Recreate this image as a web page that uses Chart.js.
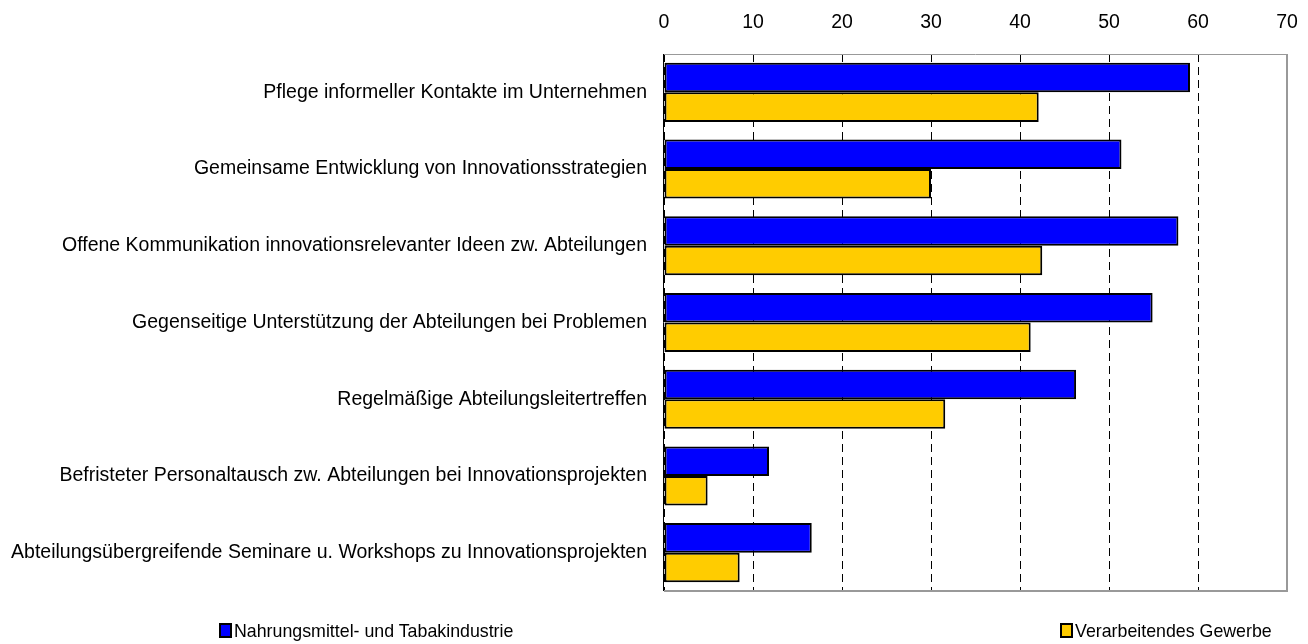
<!DOCTYPE html>
<html>
<head>
<meta charset="utf-8">
<script src="https://cdn.jsdelivr.net/npm/chart.js@4"></script>
<style>
    html, body { margin: 0; padding: 0; background: #fff; }
    #wrap { position: relative; width: 1308px; height: 644px; }
    #legend { position: absolute; left: 0; top: 621px; width: 1308px; height: 22px;
        font: 17.8px "Liberation Sans", Arial, sans-serif; color: #000; }
    .item { position: absolute; top: 0; white-space: nowrap; line-height: 21px; }
    .box { display: inline-block; width: 9px; height: 11px; border: 2px solid #000;
        vertical-align: -1px; margin-right: 2px; }
</style>
</head>
<body>
<div id="wrap">
    <canvas id="chart" width="1308" height="644"></canvas>
    <div id="legend"></div>
</div>
<script>
const categorias = [
    'Pflege informeller Kontakte im Unternehmen',
    'Gemeinsame Entwicklung von Innovationsstrategien',
    'Offene Kommunikation innovationsrelevanter Ideen zw. Abteilungen',
    'Gegenseitige Unterstützung der Abteilungen bei Problemen',
    'Regelmäßige Abteilungsleitertreffen',
    'Befristeter Personaltausch zw. Abteilungen bei Innovationsprojekten',
    'Abteilungsübergreifende Seminare u. Workshops zu Innovationsprojekten'
];
const serieNamen = ['Nahrungsmittel- und Tabakindustrie', 'Verarbeitendes Gewerbe'];
const nahrung = [59.1, 51.4, 57.8, 54.9, 46.3, 11.8, 16.6];
const gewerbe = [42.1, 30.0, 42.5, 41.2, 31.6, 4.9, 8.5];
const xTicks = [0, 10, 20, 30, 40, 50, 60, 70];

const farben = ['#0000ff', '#ffcc00'];
const FONT = '"Liberation Sans", Arial, sans-serif';

const area = { left: 664, right: 1287, top: 54, bottom: 591 };

// Rahmen um die Plotfläche
const rahmen = {
    id: 'rahmen',
    afterDatasetsDraw: function (chart) {
        const a = chart.chartArea;
        const c = chart.ctx;
        c.save();
        c.strokeStyle = '#999';
        c.lineWidth = 1;
        c.beginPath();
        c.moveTo(a.left, a.top + 0.5);
        c.lineTo(a.right, a.top + 0.5);
        c.stroke();
        c.lineWidth = 2;
        c.beginPath();
        c.moveTo(a.right, a.top);
        c.lineTo(a.right, a.bottom);
        c.lineTo(a.left, a.bottom);
        c.stroke();
        c.strokeStyle = '#000';
        c.lineWidth = 1;
        c.beginPath();
        c.moveTo(a.left - 0.5, a.top);
        c.lineTo(a.left - 0.5, a.bottom);
        c.stroke();
        c.restore();
    }
};

new Chart(document.getElementById('chart').getContext('2d'), {
    type: 'bar',
    data: {
        labels: categorias,
        datasets: [
            {
                label: serieNamen[0],
                data: nahrung,
                backgroundColor: farben[0],
                borderColor: '#000',
                borderWidth: 2,
                borderSkipped: false
            },
            {
                label: serieNamen[1],
                data: gewerbe,
                backgroundColor: farben[1],
                borderColor: '#000',
                borderWidth: 2,
                borderSkipped: false
            }
        ]
    },
    options: {
        indexAxis: 'y',
        responsive: false,
        animation: false,
        datasets: { bar: { categoryPercentage: 0.77, barPercentage: 1 } },
        layout: { padding: { left: 0, right: 1308 - area.right, top: 0, bottom: 644 - area.bottom } },
        plugins: { legend: { display: false }, tooltip: { enabled: false } },
        scales: {
            x: {
                position: 'top',
                min: 0,
                max: 70,
                afterBuildTicks: function (axis) {
                    axis.ticks = xTicks.map(function (v) { return { value: v }; });
                },
                afterFit: function (axis) {
                    axis.height = area.top;
                    axis.paddingLeft = 0;
                    axis.paddingRight = 0;
                },
                grid: { color: '#000', lineWidth: 1, drawTicks: false },
                border: { display: false, dash: [8, 5] },
                ticks: { color: '#000', padding: 20, maxRotation: 0, font: { family: FONT, size: 19.5 } }
            },
            y: {
                afterFit: function (axis) {
                    axis.width = area.left;
                    axis.paddingTop = 0;
                    axis.paddingBottom = 0;
                },
                grid: { display: false, drawTicks: false },
                border: { display: false },
                ticks: { color: '#000', padding: 17, font: { family: FONT, size: 19.5 } }
            }
        }
    },
    plugins: [rahmen]
});

const legendPos = [219, 1060];
const legend = document.getElementById('legend');
serieNamen.forEach(function (name, i) {
    const item = document.createElement('div');
    item.className = 'item';
    item.style.left = legendPos[i] + 'px';
    item.innerHTML = '<span class="box" style="background:' + farben[i] + '"></span>' + name;
    legend.appendChild(item);
});
</script>
</body>
</html>
